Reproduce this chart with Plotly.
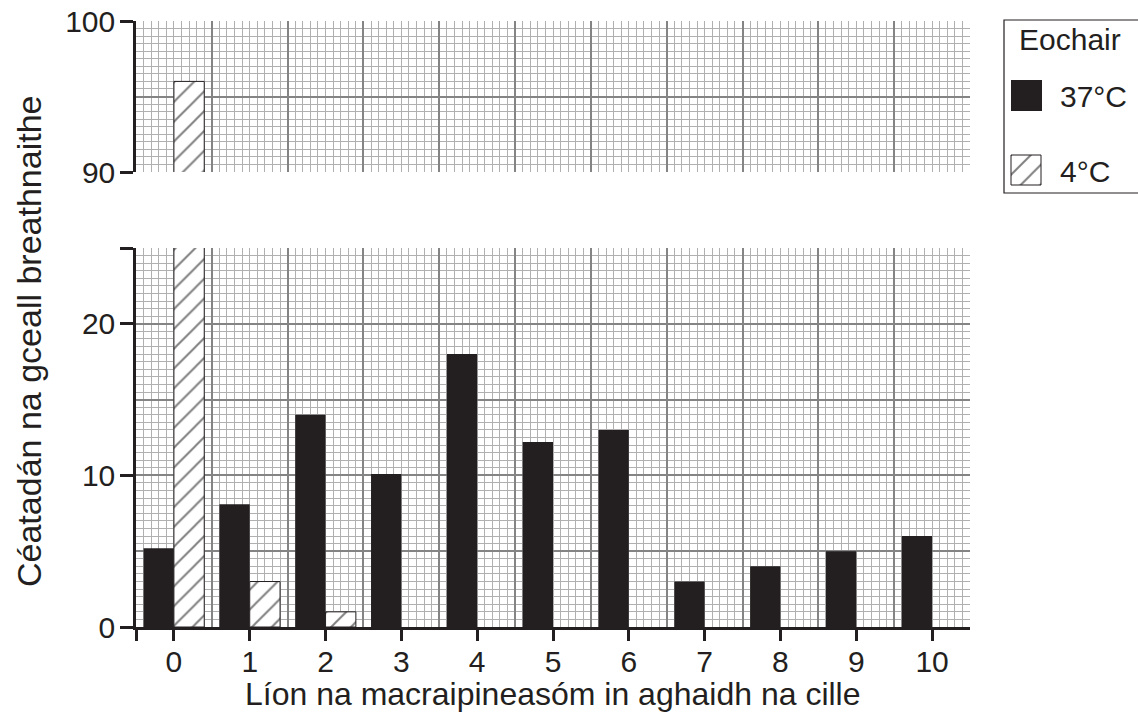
import plotly.graph_objects as go

# ---- data ----
categories = [0, 1, 2, 3, 4, 5, 6, 7, 8, 9, 10]
temp37 = [5.2, 8.1, 14.0, 10.1, 18.0, 12.2, 13.0, 3.0, 4.0, 5.0, 6.0]
temp4 = [96.0, 3.0, 1.0, None, None, None, None, None, None, None, None]
x_tick_labels = [str(c) for c in categories]
low_ticks = [0, 10, 20]
high_ticks = [90, 100]
series_names = ["37°C", "4°C"]
legend_title = "Eochair"
x_title = "Líon na macraipineasóm in aghaidh na cille"
y_title = "Céatadán na gceall breathnaithe"

# ---- style ----
INK = "#231f20"
FONT = "Liberation Sans, Arial, sans-serif"
W, H = 1138, 720
ML, MR, MT, MB = 136, 0, 21, 93
PW, PH = W - ML - MR, H - MT - MB
PLOT_RIGHT = 970


def px(xp):
    return (xp - ML) / PW


def py(yp):
    return (H - MB - yp) / PH


XD = [0, px(PLOT_RIGHT)]
LOW_D = [0, py(248)]
HIGH_D = [py(172), 1]
XR = [-0.5, 10.5]
LOW_R = [0, 25]
HIGH_R = [90, 100]

hatch = dict(shape="/", fgcolor="#000000", bgcolor="white", size=14, solidity=0.14)
fill37 = dict(color=INK, line=dict(width=0))
fill4 = dict(color="white", line=dict(color=INK, width=1), pattern=hatch)

fig = go.Figure()
for xa, ya in [("x", "y"), ("x2", "y2")]:
    fig.add_trace(go.Bar(x=categories, y=temp37, name=series_names[0], marker=fill37,
                         xaxis=xa, yaxis=ya, showlegend=False))
    fig.add_trace(go.Bar(x=categories, y=temp4, name=series_names[1], marker=fill4,
                         xaxis=xa, yaxis=ya, showlegend=False))

# grid carrier traces (empty) on overlay axes
for xa, ya in [("x3", "y3"), ("x4", "y4")]:
    fig.add_trace(go.Scatter(x=[None], y=[None], xaxis=xa, yaxis=ya, mode="markers",
                             showlegend=False, hoverinfo="skip"))

# legend swatch (hatched)
fig.add_trace(go.Bar(x=[0], y=[1], width=[1], xaxis="x5", yaxis="y5", showlegend=False,
                     marker=dict(color="white", line=dict(width=0), pattern=hatch),
                     hoverinfo="skip"))

tickfont = dict(family=FONT, size=30, color=INK)
axline = dict(showline=True, linecolor=INK, linewidth=2.5, ticks="outside",
              tickcolor=INK, tickwidth=2.5, zeroline=False, showgrid=False,
              tickfont=tickfont)

grid_major = "#848484"
grid_minor = "#b0b0b0"


def grid_x(overlay, anchor):
    return dict(overlaying=overlay, anchor=anchor, range=XR, tickmode="linear", tick0=0.5,
                dtick=1, showgrid=True, gridcolor=grid_major, gridwidth=1.5,
                showticklabels=False, ticks="", zeroline=False, showline=False,
                minor=dict(tick0=0, dtick=0.1, showgrid=True, gridcolor=grid_minor,
                           gridwidth=1))


def grid_y(overlay, anchor, rng):
    return dict(overlaying=overlay, anchor=anchor, range=rng, tickmode="linear", tick0=0,
                dtick=5, showgrid=True, gridcolor=grid_major, gridwidth=1.5,
                showticklabels=False, ticks="", zeroline=False, showline=False,
                minor=dict(tick0=0, dtick=0.5, showgrid=True, gridcolor=grid_minor,
                           gridwidth=1))


fig.update_layout(
    width=W, height=H,
    margin=dict(l=ML, r=MR, t=MT, b=MB),
    paper_bgcolor="white", plot_bgcolor="white",
    barmode="group", bargap=0.2, bargroupgap=0,
    showlegend=False,
    font=dict(family=FONT, color=INK),
    xaxis=dict(domain=XD, range=XR, anchor="y", tickmode="array",
               tickvals=[-0.5] + categories, ticktext=[""] + x_tick_labels,
               ticklen=11, ticklabelstandoff=-5, **axline),
    yaxis=dict(domain=LOW_D, range=LOW_R, anchor="x", tickmode="array",
               tickvals=low_ticks + [LOW_R[1]],
               ticktext=[str(v) for v in low_ticks] + [""],
               ticklen=13, ticklabelstandoff=-1, **axline),
    xaxis2=dict(domain=XD, range=XR, anchor="y2", matches="x", showticklabels=False,
                ticks="", showline=False, showgrid=False, zeroline=False),
    yaxis2=dict(domain=HIGH_D, range=HIGH_R, anchor="x2", tickmode="array",
                tickvals=high_ticks, ticktext=[str(v) for v in high_ticks],
                ticklen=13, ticklabelstandoff=-1, **axline),
    xaxis3=grid_x("x", "y3"),
    yaxis3=grid_y("y", "x3", LOW_R),
    xaxis4=grid_x("x2", "y4"),
    yaxis4=grid_y("y2", "x4", HIGH_R),
    xaxis5=dict(domain=[px(1011), px(1041)], range=[-0.5, 0.5], anchor="y5", visible=False),
    yaxis5=dict(domain=[py(185), py(155)], range=[0, 1], anchor="x5", visible=False),
)

# axis titles
fig.add_annotation(text=x_title, xref="paper", yref="paper", x=px((ML + PLOT_RIGHT) / 2),
                   y=py(694), xanchor="center", yanchor="middle", showarrow=False,
                   font=dict(family=FONT, size=32, color=INK))
fig.add_annotation(text=y_title, xref="paper", yref="paper", x=px(29), y=py(341),
                   xanchor="center", yanchor="middle", textangle=-90, showarrow=False,
                   font=dict(family=FONT, size=34, color=INK))

# legend box
fig.add_shape(type="rect", xref="paper", yref="paper", x0=px(1004), x1=px(1142),
              y0=py(193), y1=py(20), line=dict(color=INK, width=1.2), fillcolor="rgba(0,0,0,0)")
fig.add_shape(type="rect", xref="paper", yref="paper", x0=px(1011), x1=px(1042),
              y0=py(111), y1=py(80), line=dict(width=0), fillcolor=INK)
fig.add_shape(type="rect", xref="paper", yref="paper", x0=px(1011), x1=px(1041),
              y0=py(185), y1=py(155), line=dict(color=INK, width=1), fillcolor="rgba(0,0,0,0)")
fig.add_annotation(text=legend_title, xref="paper", yref="paper", x=px(1017), y=py(40),
                   xanchor="left", yanchor="middle", showarrow=False,
                   font=dict(family=FONT, size=30, color=INK))
fig.add_annotation(text=series_names[0], xref="paper", yref="paper", x=px(1058), y=py(96),
                   xanchor="left", yanchor="middle", showarrow=False,
                   font=dict(family=FONT, size=30, color=INK))
fig.add_annotation(text=series_names[1], xref="paper", yref="paper", x=px(1058), y=py(171),
                   xanchor="left", yanchor="middle", showarrow=False,
                   font=dict(family=FONT, size=30, color=INK))

fig.write_html("out.html", config={"displayModeBar": False},
               post_script="document.body.style.margin='0px';")
